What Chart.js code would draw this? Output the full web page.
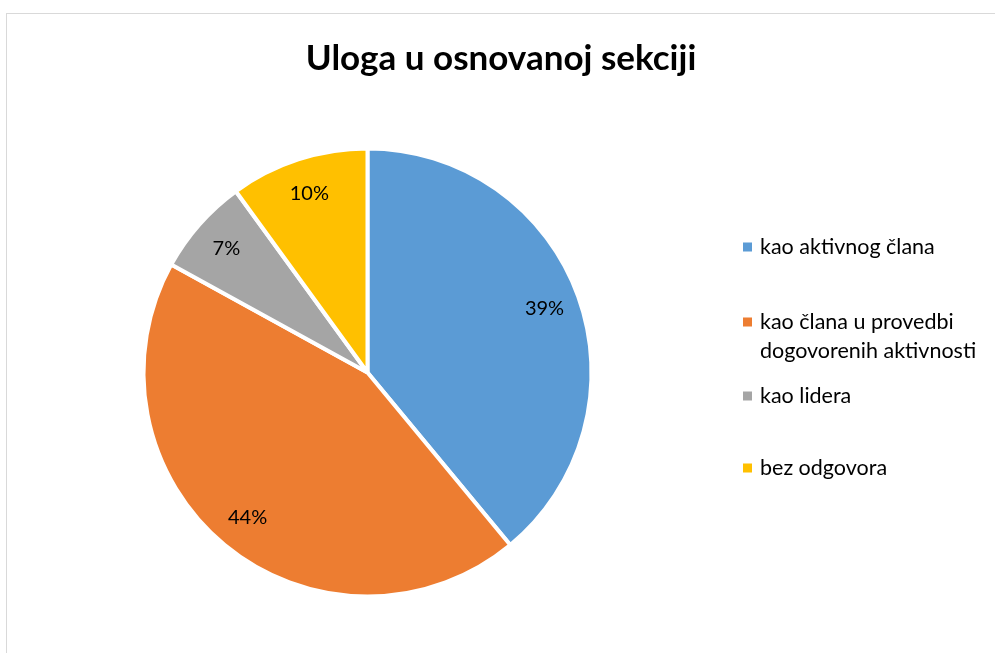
<!DOCTYPE html>
<html>
<head>
<meta charset="utf-8">
<script src="https://cdn.jsdelivr.net/npm/chart.js@4/dist/chart.umd.min.js"></script>
<style>
  html, body { margin: 0; padding: 0; background: #ffffff; }
  #wrap { position: relative; width: 995px; height: 653px; overflow: hidden; }
  #frame { position: absolute; left: 6px; top: 13px; width: 1200px; height: 900px; border: 1px solid #d9d9d9; box-sizing: border-box; }
  canvas { position: absolute; left: 0; top: 0; }
</style>
</head>
<body>
<div id="wrap">
  <div id="frame"></div>
  <canvas id="c" width="995" height="653"></canvas>
</div>
<script>
const chartTitle = "Uloga u osnovanoj sekciji";
const categories = [
  "kao aktivnog člana",
  ["kao člana u provedbi", "dogovorenih aktivnosti"],
  "kao lidera",
  "bez odgovora"
];
const percentValues = [39, 44, 7, 10];
const percentLabels = ["39%", "44%", "7%", "10%"];
const sliceColors = ["#5B9BD5", "#ED7D31", "#A5A5A5", "#FFC000"];

const FONT = "Lato, 'Open Sans', 'DejaVu Sans', sans-serif";

const overlayPlugin = {
  id: 'overlay',
  afterDraw(chart) {
    const ctx = chart.ctx;
    ctx.save();
    // Title
    ctx.fillStyle = '#000000';
    ctx.font = "bold 35px " + FONT;
    ctx.textAlign = 'center';
    ctx.textBaseline = 'alphabetic';
    ctx.fillText(chartTitle, 501, 70);

    // Data labels
    const meta = chart.getDatasetMeta(0);
    ctx.font = "20px " + FONT;
    ctx.textBaseline = 'middle';
    ctx.fillStyle = '#000000';
    meta.data.forEach((arc, i) => {
      const p = arc.getProps(['x', 'y', 'startAngle', 'endAngle', 'outerRadius'], true);
      const mid = (p.startAngle + p.endAngle) / 2;
      const r = p.outerRadius * 0.84;
      ctx.fillText(percentLabels[i], p.x + Math.cos(mid) * r, p.y + Math.sin(mid) * r);
    });

    // Legend
    const rowY = [247, 322, 396, 468];
    const lineGap = 29;
    ctx.font = "21.5px " + FONT;
    ctx.textAlign = 'left';
    categories.forEach((lab, i) => {
      ctx.fillStyle = sliceColors[i];
      ctx.fillRect(743, rowY[i] - 4.5, 9, 9);
      ctx.fillStyle = '#000000';
      const lines = Array.isArray(lab) ? lab : [lab];
      lines.forEach((ln, j) => ctx.fillText(ln, 760, rowY[i] + j * lineGap));
    });
    ctx.restore();
  }
};

new Chart(document.getElementById('c'), {
  type: 'pie',
  data: {
    labels: categories,
    datasets: [{
      data: percentValues,
      backgroundColor: sliceColors,
      borderColor: '#ffffff',
      borderWidth: 4,
      radius: 224
    }]
  },
  options: {
    responsive: false,
    animation: false,
    events: [],
    layout: { padding: { left: 0, right: 260, top: 92, bottom: 0 } },
    plugins: {
      legend: { display: false },
      title: { display: false, text: chartTitle },
      tooltip: { enabled: false }
    }
  },
  plugins: [overlayPlugin]
});
</script>
</body>
</html>
